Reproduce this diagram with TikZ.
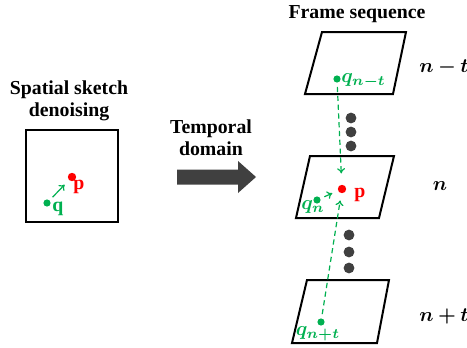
\documentclass[tikz,border=0pt]{standalone}
\usepackage{amsmath,amssymb}
\usepackage{bm}
\usepackage{fontspec}
\setmainfont{Liberation Serif}
\usepackage{xcolor}
\usetikzlibrary{arrows.meta,positioning}
\definecolor{pgreen}{RGB}{0,176,80}
\definecolor{pred}{RGB}{255,0,0}
\definecolor{dgrey}{RGB}{64,64,64}
\tikzset{
  ttl/.style={font=\bfseries\fontsize{9.9}{11}\selectfont, align=center, inner sep=0pt},
  frm/.style={draw=black, line width=1pt, line join=miter},
  gdot/.style={circle, fill=pgreen, inner sep=0pt, minimum size=3.6pt},
  rdot/.style={circle, fill=pred, inner sep=0pt, minimum size=4.2pt},
  kdot/.style={circle, fill=dgrey, inner sep=0pt, minimum size=5.4pt},
  garr/.style={-{To[length=2.6pt,width=4pt]}, pgreen, line width=0.6pt},
  gdash/.style={garr, dash pattern=on 2.6pt off 1.8pt},
  rlbl/.style={inner sep=0pt, text=pred, font=\bfseries\fontsize{9.9}{11}\selectfont},
  glbl/.style={inner sep=0pt, text=pgreen, font=\bfseries\fontsize{9.9}{11}\selectfont},
  mlbl/.style={inner sep=0pt, font=\fontsize{9.9}{11}\selectfont}
}

\begin{document}
\begin{tikzpicture}[x=0.5pt,y=-0.5pt]
\useasboundingbox (0,0) rectangle (467,348);

% spatial case: a single frame
\node[ttl] (stitle) at (69,101) {Spatial sketch\\denoising};
\draw[frm] (26,130) rectangle (118,222);
\node[rdot] (p0) at (72,177) {};
\node[gdot] (q0) at (47,203) {};
\node[rlbl] (p0l) at (79,187) {p};
\node[glbl] (q0l) at (58,209) {q};
\draw[garr, shorten <=2pt, shorten >=3pt] (q0) -- (p0);

% big arrow
\node[ttl] (ttitle) at (211,138) {Temporal\\domain};
\fill[dgrey] (177,169.5) -- (238,169.5) -- (238,161) -- (256,177)
  -- (238,193) -- (238,184.5) -- (177,184.5) -- cycle;

% frame sequence
\node[ttl] (ftitle) at (357,14) {Frame sequence};
\draw[frm] (322,32) -- (406,32) -- (393,94) -- (305,94) -- cycle;
\draw[frm] (310,156) -- (394,156) -- (379,218) -- (296,218) -- cycle;
\draw[frm] (307,280) -- (389,280) -- (377,343) -- (292,343) -- cycle;

\node[mlbl] (ntop) at (444,67) {$\bm{n-t}$};
\node[mlbl] (nmid) at (440,186) {$\bm{n}$};
\node[mlbl] (nbot) at (444,316) {$\bm{n+t}$};

\foreach \y in {118,132,146} \node[kdot] at (351,\y) {};
\foreach \y in {235,252,268} \node[kdot] at (349,\y) {};

\node[gdot] (qt) at (337,79) {};
\node[glbl, anchor=west] (qtl) at (341,81) {$\bm{q_{n-t}}$};
\node[rdot] (p1) at (342,189) {};
\node[rlbl] (p1l) at (360,195) {p};
\node[gdot] (qn) at (317,200) {};
\node[glbl] (qnl) at (313,207) {$\bm{q_{n}}$};
\node[gdot] (qb) at (321,322) {};
\node[glbl] (qbl) at (318,334) {$\bm{q_{n+t}}$};

\draw[garr, shorten <=2pt, shorten >=3pt] (qn) -- (p1);
\draw[gdash, shorten <=2pt, shorten >=5.5pt] (qt) -- (p1);
\draw[gdash, shorten <=2pt, shorten >=3.5pt] (qb) -- (p1);
\end{tikzpicture}
\end{document}
